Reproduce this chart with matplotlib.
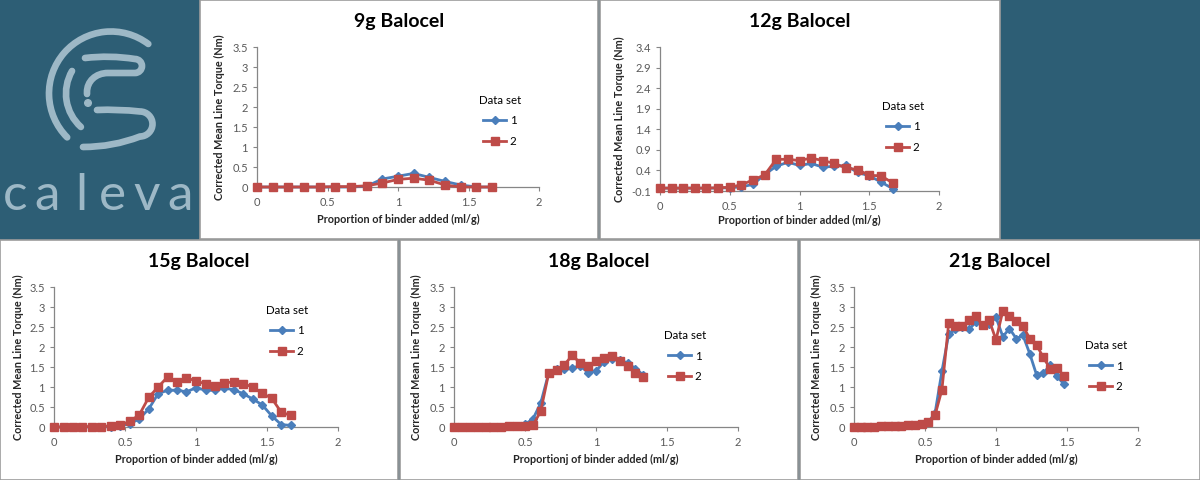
import matplotlib
matplotlib.use("Agg")
import matplotlib.pyplot as plt
from matplotlib.patches import Rectangle, Arc, Circle, PathPatch
from matplotlib.path import Path

plt.rcParams['font.family'] = ['Lato', 'DejaVu Sans']

# ---------------- data ----------------
x9 = [0, 0.111, 0.222, 0.333, 0.444, 0.556, 0.667, 0.778, 0.889, 1.0, 1.111, 1.222, 1.333, 1.444, 1.556, 1.667]
y9_1 = [0, 0, 0, 0, 0, 0, 0, 0.02, 0.2, 0.27, 0.34, 0.24, 0.14, 0.05, 0, 0]
y9_2 = [0, 0, 0, 0, 0, 0.01, 0.01, 0.03, 0.1, 0.19, 0.22, 0.17, 0.05, 0, 0, 0]

x12 = [0, 0.083, 0.167, 0.25, 0.333, 0.417, 0.5, 0.583, 0.667, 0.75, 0.833, 0.917, 1.0,
       1.083, 1.167, 1.25, 1.333, 1.417, 1.5, 1.583, 1.667]
y12_1 = [-0.03, -0.03, -0.03, -0.03, -0.03, -0.03, -0.02, 0.0, 0.06, 0.3, 0.5, 0.6, 0.52,
         0.57, 0.48, 0.5, 0.52, 0.35, 0.27, 0.12, -0.04]
y12_2 = [-0.03, -0.03, -0.03, -0.03, -0.03, -0.02, -0.01, 0.05, 0.17, 0.29, 0.67, 0.67, 0.64,
         0.70, 0.64, 0.57, 0.46, 0.42, 0.28, 0.27, 0.10]

x15 = [0, 0.067, 0.133, 0.2, 0.267, 0.333, 0.4, 0.467, 0.533, 0.6, 0.667, 0.733, 0.8, 0.867,
       0.933, 1.0, 1.067, 1.133, 1.2, 1.267, 1.333, 1.4, 1.467, 1.533, 1.6, 1.667]
y15_1 = [0, 0, 0, 0, 0, 0, 0.01, 0.03, 0.08, 0.2, 0.45, 0.83, 0.92, 0.92, 0.88, 0.98, 0.92,
         0.92, 0.97, 0.93, 0.83, 0.7, 0.55, 0.28, 0.06, 0.04]
y15_2 = [0, 0, 0.01, 0.01, 0.01, 0.01, 0.03, 0.05, 0.14, 0.3, 0.74, 1.0, 1.25, 1.12, 1.23,
         1.15, 1.08, 1.03, 1.1, 1.13, 1.08, 1.0, 0.84, 0.72, 0.37, 0.29]

x18 = [0, 0.056, 0.111, 0.167, 0.222, 0.278, 0.333, 0.389, 0.444, 0.5, 0.556, 0.611, 0.667,
       0.722, 0.778, 0.833, 0.889, 0.944, 1.0, 1.056, 1.111, 1.167, 1.222, 1.278, 1.333]
y18_1 = [0, 0, 0, 0, 0.01, 0.01, 0.01, 0.02, 0.03, 0.07, 0.2, 0.6, 1.35, 1.45, 1.46, 1.48,
         1.53, 1.36, 1.4, 1.63, 1.7, 1.68, 1.6, 1.46, 1.3]
y18_2 = [0, 0, 0, 0, 0.01, 0.01, 0.01, 0.02, 0.02, 0.03, 0.04, 0.4, 1.35, 1.43, 1.56, 1.79,
         1.6, 1.52, 1.65, 1.73, 1.78, 1.65, 1.52, 1.35, 1.24]

x21 = [0, 0.048, 0.095, 0.143, 0.19, 0.238, 0.286, 0.333, 0.381, 0.429, 0.476, 0.524, 0.571,
       0.619, 0.667, 0.714, 0.762, 0.81, 0.857, 0.905, 0.952, 1.0, 1.048, 1.095, 1.143, 1.19,
       1.238, 1.286, 1.333, 1.381, 1.429, 1.476]
y21_1 = [0, 0, 0.01, 0.01, 0.02, 0.02, 0.03, 0.03, 0.04, 0.05, 0.08, 0.12, 0.35, 1.39, 2.32,
         2.44, 2.49, 2.44, 2.62, 2.55, 2.58, 2.74, 2.26, 2.46, 2.21, 2.29, 1.83, 1.3, 1.35,
         1.54, 1.27, 1.08]
y21_2 = [0, 0, 0.01, 0.01, 0.02, 0.02, 0.03, 0.03, 0.04, 0.05, 0.08, 0.13, 0.3, 0.93, 2.6,
         2.53, 2.53, 2.67, 2.77, 2.55, 2.67, 2.18, 2.9, 2.77, 2.64, 2.52, 2.21, 2.05, 1.74,
         1.46, 1.48, 1.28]

xticks = [0, 0.5, 1, 1.5, 2]
xtick_labels = ['0', '0.5', '1', '1.5', '2']
yticks_std = [0, 0.5, 1, 1.5, 2, 2.5, 3, 3.5]
ytick_labels_std = ['0', '0.5', '1', '1.5', '2', '2.5', '3', '3.5']
yticks_12 = [-0.1, 0.4, 0.9, 1.4, 1.9, 2.4, 2.9, 3.4]
ytick_labels_12 = ['-0.1', '0.4', '0.9', '1.4', '1.9', '2.4', '2.9', '3.4']
series_labels = ['1', '2']
legend_title = 'Data set'
ylabel = 'Corrected Mean Line Torque (Nm)'
xlabel = 'Proportion of binder added (ml/g)'
xlabel_18 = 'Proportionj of binder added (ml/g)'
logo_word = 'caleva'

# ---------------- style ----------------
BG = '#2d5e75'
BLUE = '#4a7ebb'
RED = '#be4b48'
AXC = '#868686'
W, H = 1200, 480

fig = plt.figure(figsize=(12, 4.8), dpi=100, facecolor=BG)


def chart(panel, box, title, xl, x, y1, y2, ylim, yt, ytl, leg_c, ylab_off=-38, xlab_off=-32):
    l, t, r, b = panel
    fig.add_artist(Rectangle((l / W, 1 - b / H), (r - l) / W, (b - t) / H,
                             transform=fig.transFigure, facecolor='white',
                             edgecolor='#9c9c9c', lw=1.2, zorder=0))
    al, at, ar, ab = box
    ax = fig.add_axes([al / W, 1 - ab / H, (ar - al) / W, (ab - at) / H])
    ax.set_facecolor('none')
    ax.plot(x, y1, color=BLUE, marker='D', ms=4.2, lw=2, label=series_labels[0], zorder=3,
            clip_on=False)
    ax.plot(x, y2, color=RED, marker='s', ms=6.3, lw=2, label=series_labels[1], zorder=4,
            clip_on=False)
    ax.set_xlim(0, 2)
    ax.set_ylim(*ylim)
    ax.set_xticks(xticks)
    ax.set_xticklabels(xtick_labels)
    ax.set_yticks(yt)
    ax.set_yticklabels(ytl)
    for s in ('top', 'right'):
        ax.spines[s].set_visible(False)
    for s in ('left', 'bottom'):
        ax.spines[s].set_color(AXC)
        ax.spines[s].set_linewidth(0.9)
    ax.tick_params(direction='out', length=3, width=0.8, color=AXC, labelsize=8,
                   labelcolor='#595959')
    ax.tick_params(axis='y', pad=3.5)
    ax.tick_params(axis='x', pad=4)
    axw, axh = ar - al, ab - at
    ax.set_ylabel(ylabel, fontsize=7.8, fontweight='bold', color='#262626', va='center')
    ax.yaxis.set_label_coords(ylab_off / axw, 0.5)
    ax.set_xlabel(xl, fontsize=7.8, fontweight='bold', color='#262626', va='center')
    ax.xaxis.set_label_coords(0.5, xlab_off / axh)
    fig.text((l + r) / 2 / W, 1 - (t + 22) / H, title, ha='center', va='center',
             fontsize=14, fontweight='bold', color='black')
    ax.legend(title=legend_title, loc='center', bbox_to_anchor=(leg_c[0] / W, 1 - leg_c[1] / H),
              bbox_transform=fig.transFigure, frameon=False, fontsize=8.3, title_fontsize=8.3,
              handlelength=2.0, handletextpad=0.3, labelspacing=0.8, borderpad=0)
    return ax


chart((200, 0, 598, 239), (257, 47, 539, 187), '9g Balocel', xlabel, x9, y9_1, y9_2,
      (0, 3.5), yticks_std, ytick_labels_std, (500, 121))
chart((600, 0, 1000, 239), (660, 47, 939, 191), '12g Balocel', xlabel, x12, y12_1, y12_2,
      (-0.1, 3.4), yticks_12, ytick_labels_12, (903, 127), ylab_off=-41, xlab_off=-29)
chart((0, 240, 398, 480), (54, 287, 338, 427), '15g Balocel', xlabel, x15, y15_1, y15_2,
      (0, 3.5), yticks_std, ytick_labels_std, (287, 331), ylab_off=-36)
chart((400, 240, 798, 480), (454, 287, 738, 427), '18g Balocel', xlabel_18, x18, y18_1, y18_2,
      (0, 3.5), yticks_std, ytick_labels_std, (685, 356))
chart((800, 240, 1200, 480), (854, 287, 1138, 427), '21g Balocel', xlabel, x21, y21_1, y21_2,
      (0, 3.5), yticks_std, ytick_labels_std, (1106, 366))

# ---------------- logo ----------------
LOGO = '#9db8c6'
LW = 4.8
logo = fig.add_axes([0, 0.5, 200 / W, 0.5])
logo.set_xlim(0, 200)
logo.set_ylim(0, 240)
logo.axis('off')


def P(x, y):
    return (x, 240 - y)


def stroke(pts, codes):
    logo.add_patch(PathPatch(Path([P(*p) for p in pts], codes), fill=False, edgecolor=LOGO,
                             lw=LW, capstyle='round', joinstyle='round'))


logo.add_patch(Arc(P(111, 93.5), 124, 124, theta1=53, theta2=225, edgecolor=LOGO, lw=LW,
                   capstyle='round'))
logo.add_patch(Arc(P(111, 93.5), 90, 90, theta1=150, theta2=228, edgecolor=LOGO, lw=LW,
                   capstyle='round'))
k = 0.5523
M, C3, C4, L = Path.MOVETO, Path.CURVE3, Path.CURVE4, Path.LINETO
# top stroke with hairpin into inner ring
stroke([(85, 58), (110, 55), (135, 59),
        (135 + 7 * k, 59), (142, 66 - 7 * k), (142, 66),
        (142, 66 + 7 * k), (135 + 7 * k, 73), (135, 73),
        (108, 73),
        (106 - 19 * k, 73), (87, 92 - 19 * k), (87, 92),
        (87, 94)],
       [M, C3, C3, C4, C4, C4, C4, C4, C4, L, C4, C4, C4, L])
# bottom stroke with hook into inner lower arm
stroke([(83, 147), (113, 147), (140, 136.5),
        (140 + 12.5 * k, 136.5), (152.5, 124 + 12.5 * k), (152.5, 124),
        (152.5, 124 - 12.5 * k), (140 + 12.5 * k, 111.5), (140, 111.5),
        (118, 109), (97, 110)],
       [M, C3, C3, C4, C4, C4, C4, C4, C4, C3, C3])
logo.add_patch(Circle(P(88, 103), 3.3, color=LOGO))
letter_x = [15, 47, 81, 112, 147, 180]
for ch, lx in zip(logo_word, letter_x):
    logo.text(lx, 240 - 210, ch, ha='center', va='baseline', fontsize=37, color=LOGO)

fig.savefig('out.png', dpi=100, facecolor=BG)
